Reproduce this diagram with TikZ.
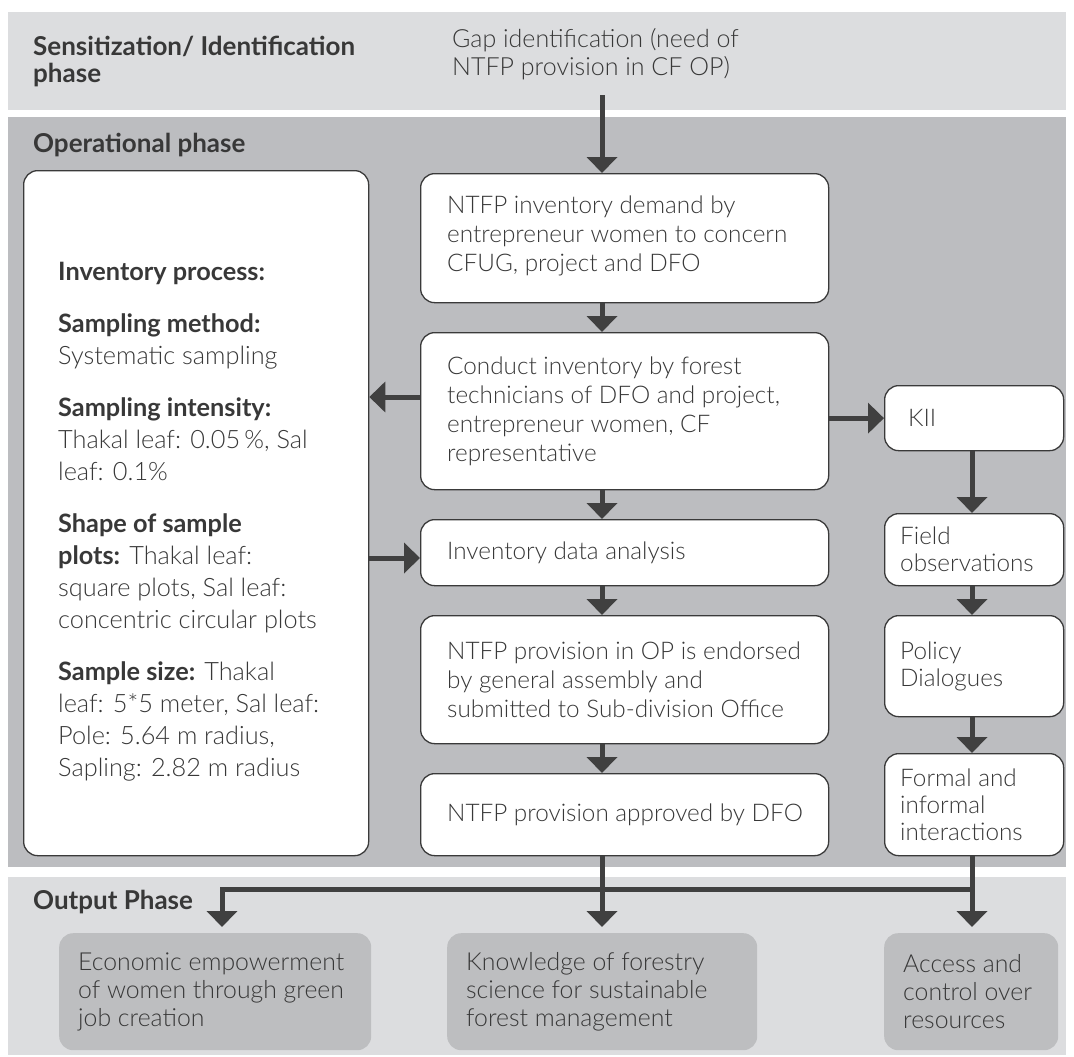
\documentclass[tikz,border=0pt]{standalone}
\usepackage{fontspec}
\setmainfont{Lato}[UprightFont={* Light},BoldFont={* Bold}]
\usetikzlibrary{arrows.meta,calc}
\definecolor{bandA}{HTML}{DCDDDF}
\definecolor{bandB}{HTML}{BCBDC0}
\definecolor{outbox}{HTML}{BDBEC0}
\definecolor{arrowc}{HTML}{404040}
\definecolor{boxline}{HTML}{3A3A3A}
\definecolor{txt}{HTML}{383838}
\begin{document}
\begin{tikzpicture}[x=1pt,y=-1pt,
  band/.style={draw=none,anchor=north west,inner sep=0pt},
  wbox/.style={draw=boxline,line width=1.3pt,fill=white,rounded corners=14pt,anchor=north west,inner sep=0pt},
  midbox/.style={wbox,minimum width=408pt},
  rbox/.style={wbox,minimum width=179pt},
  obox/.style={draw=none,fill=outbox,rounded corners=14pt,anchor=north west,inner sep=0pt},
  lbl/.style={anchor=west,inner sep=0pt,align=left,text=txt},
  midlbl/.style={lbl,font=\fontsize{24.3}{29}\selectfont},
  rlbl/.style={lbl,font=\fontsize{24.3}{27}\selectfont},
  olbl/.style={lbl,font=\fontsize{24.8}{28}\selectfont},
  head/.style={lbl,font=\bfseries\fontsize{26}{27}\selectfont},
  arr/.style={draw=arrowc,line width=5pt,-{Triangle[length=16pt,width=30pt]}},
  ln/.style={draw=arrowc,line width=5pt}]
\useasboundingbox (0,0) rectangle (1074,1057);
% bands
\node[band,fill=bandA,minimum width=1058pt,minimum height=98pt] (bandtop) at (8,12) {};
\node[band,fill=bandB,minimum width=1058pt,minimum height=750pt] (bandop) at (8,117) {};
\node[band,fill=bandA,minimum width=1058pt,minimum height=178pt] (bandout) at (8,877) {};
% headers
\node[head] (h1) at (33,61) {Sensitization/ Identification\\phase};
\node[head] (h2) at (33,145) {Operational phase};
\node[head] (h3) at (33,902) {Output Phase};
\node[lbl,font=\fontsize{25}{28}\selectfont] (gap) at (452,54) {Gap identification (need of\\NTFP provision in CF OP)};
% left box
\node[wbox,minimum width=345pt,minimum height=685pt] (left) at (23,170) {};
\node[anchor=north west,inner sep=0pt,align=left,text=txt,font=\fontsize{25.3}{32}\selectfont] (lefttxt) at (58,262) {%
\textbf{Inventory process:}\\[20pt]
\textbf{Sampling method:}\\
Systematic sampling\\[20pt]
\textbf{Sampling intensity:}\\
Thakal leaf: 0.05\,\%, Sal\\
leaf: 0.1\%\\[20pt]
\textbf{Shape of sample}\\
\textbf{plots:} Thakal leaf:\\
square plots, Sal leaf:\\
concentric circular plots\\[20pt]
\textbf{Sample size:} Thakal\\
leaf: 5*5 meter, Sal leaf:\\
Pole: 5.64 m radius,\\
Sapling: 2.82 m radius};
% middle column
\node[midbox,minimum height=129pt] (ntfp) at (420,173) {};
\node[midbox,minimum height=157pt] (conduct) at (420,332) {};
\node[midbox,minimum height=66pt] (analysis) at (420,519) {};
\node[midbox,minimum height=128pt] (endorsed) at (420,615) {};
\node[midbox,minimum height=82pt] (approved) at (420,773) {};
\node[midlbl] (ntfpT) at ($(ntfp.west)+(27,-2)$) {NTFP inventory demand by\\entrepreneur women to concern\\CFUG, project and DFO};
\node[midlbl] (conductT) at ($(conduct.west)+(27,0)$) {Conduct inventory by forest\\technicians of DFO and project,\\entrepreneur women, CF\\representative};
\node[midlbl] (analysisT) at ($(analysis.west)+(27,0)$) {Inventory data analysis};
\node[midlbl] (endorsedT) at ($(endorsed.west)+(27,0)$) {NTFP provision in OP is endorsed\\by general assembly and\\submitted to Sub-division Office};
\node[midlbl] (approvedT) at ($(approved.west)+(27,0)$) {NTFP provision approved by DFO};
% right column
\node[rbox,minimum height=65pt] (kii) at (884,385) {};
\node[rbox,minimum height=72pt] (field) at (884,513) {};
\node[rbox,minimum height=101pt] (policy) at (884,615) {};
\node[rbox,minimum height=102pt] (formal) at (884,753) {};
\node[rlbl] (kiiT) at ($(kii.west)+(24,0)$) {KII};
\node[rlbl] (fieldT) at ($(field.west)+(16,0)$) {Field\\observations};
\node[rlbl] (policyT) at ($(policy.west)+(16,0)$) {Policy\\Dialogues};
\node[rlbl] (formalT) at ($(formal.west)+(16,0)$) {Formal and\\informal\\interactions};
% output boxes
\node[obox,minimum width=312pt,minimum height=117pt] (econ) at (59,933) {};
\node[obox,minimum width=310pt,minimum height=117pt] (know) at (447,933) {};
\node[obox,minimum width=174pt,minimum height=117pt] (access) at (884,933) {};
\node[olbl] (econT) at ($(econ.west)+(19,0)$) {Economic empowerment\\of women through green\\job creation};
\node[olbl] (knowT) at ($(know.west)+(19,0)$) {Knowledge of forestry\\science for sustainable\\forest management};
\node[olbl] (accessT) at ($(access.west)+(19,0)$) {Access and\\control over\\resources};
% helper coordinates
\coordinate (cx) at (602,0);
\coordinate (rx) at (972,0);
\coordinate (lx) at (222,0);
\coordinate (ly1) at (0,397);
\coordinate (ly2) at (0,558);
\coordinate (gapend) at (602,95);
\coordinate (split) at (602,889);
\coordinate (rsplit) at (972,889);
\coordinate (lsplit) at (222,889);
% connectors
\draw[arr] (gapend) -- (ntfp.north -| cx);
\draw[arr] (ntfp.south -| cx) -- (conduct.north -| cx);
\draw[arr] (conduct.south -| cx) -- (analysis.north -| cx);
\draw[arr] (analysis.south -| cx) -- (endorsed.north -| cx);
\draw[arr] (endorsed.south -| cx) -- (approved.north -| cx);
\draw[arr] (conduct.west |- ly1) -- (left.east |- ly1);
\draw[arr] (left.east |- ly2) -- (analysis.west |- ly2);
\draw[arr] (conduct.east |- kii.west) -- (kii.west);
\draw[arr] (kii.south -| rx) -- (field.north -| rx);
\draw[arr] (field.south -| rx) -- (policy.north -| rx);
\draw[arr] (policy.south -| rx) -- (formal.north -| rx);
\draw[ln] (approved.south -| cx) -- (split);
\draw[ln] (formal.south -| rx) -- (rsplit);
\draw[ln,line cap=rect] (lsplit) -- (rsplit);
\draw[arr,shorten >=6pt] (split) -- (know.north -| cx);
\draw[arr,shorten >=6pt] (rsplit) -- (access.north -| rx);
\draw[arr,shorten >=6pt] (lsplit) -- (econ.north -| lx);
\end{tikzpicture}
\end{document}
